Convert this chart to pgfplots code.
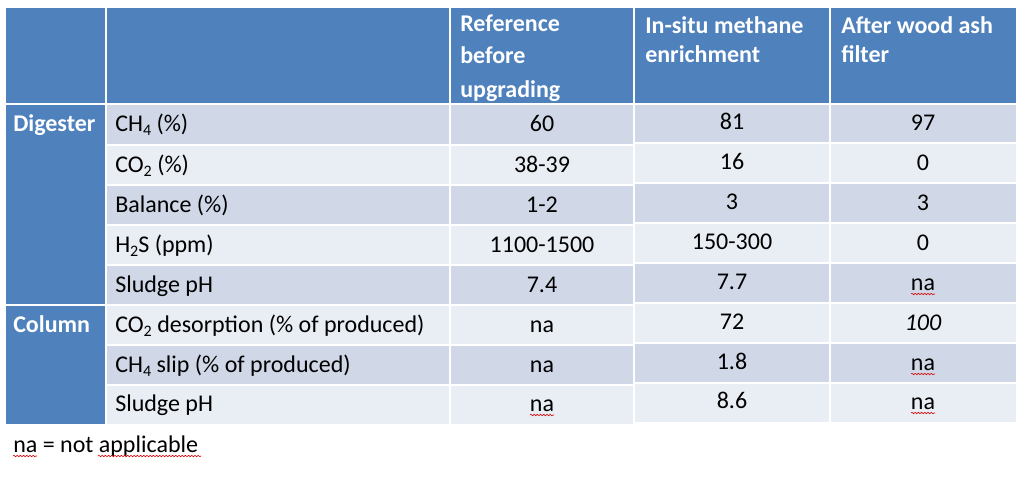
\documentclass[border=0pt]{standalone}
\usepackage{pgfplots}
\pgfplotsset{compat=1.18}
\usepackage{fontspec}
\setmainfont{Carlito}
\usetikzlibrary{decorations.pathmorphing}
\definecolor{hdr}{HTML}{4F81BD}
\definecolor{dk}{HTML}{D0D8E8}
\definecolor{lt}{HTML}{E9EDF4}
\newcommand{\cell}[5]{\addplot[fill=#5, draw=white, line width=1.5pt] coordinates {(#1,#2) (#3,#2) (#3,#4) (#1,#4)} -- cycle;}
\newcommand{\tf}{\fontsize{18}{21}\selectfont}
\newcommand{\sub}[1]{\raisebox{-3.2pt}{\fontsize{12}{12}\selectfont #1}}
\newcommand{\sq}[2]{\draw[red!85!black, line width=0.45pt, decorate, decoration={snake, amplitude=0.55pt, segment length=2.4pt}] (axis cs:#1,#2) -- (axis cs:#1+24,#2);}
\begin{document}
\begin{tikzpicture}
\begin{axis}[
  width=767.25pt, height=358.5pt, scale only axis,
  xmin=0, xmax=1023, ymin=0, ymax=478, y dir=reverse,
  axis lines=none, clip=false,
]
\addplot[fill=white, draw=none] coordinates {(0,0) (1023,0) (1023,478) (0,478)} -- cycle;
% header
\cell{5}{7}{106}{104}{hdr}
\cell{106}{7}{450}{104}{hdr}
\cell{450}{7}{634}{104}{hdr}
\cell{634}{7}{830}{104}{hdr}
\cell{830}{7}{1017}{104}{hdr}
% first column
\cell{5}{104}{106}{305}{hdr}
\cell{5}{305}{106}{425}{hdr}
% columns 2-3 rows
\cell{106}{104}{450}{145}{dk}\cell{450}{104}{634}{145}{dk}
\cell{106}{145}{450}{185}{lt}\cell{450}{145}{634}{185}{lt}
\cell{106}{185}{450}{225}{dk}\cell{450}{185}{634}{225}{dk}
\cell{106}{225}{450}{265}{lt}\cell{450}{225}{634}{265}{lt}
\cell{106}{265}{450}{305}{dk}\cell{450}{265}{634}{305}{dk}
\cell{106}{305}{450}{345}{lt}\cell{450}{305}{634}{345}{lt}
\cell{106}{345}{450}{385}{dk}\cell{450}{345}{634}{385}{dk}
\cell{106}{385}{450}{425}{lt}\cell{450}{385}{634}{425}{lt}
% columns 4-5 rows (slightly shifted)
\cell{634}{104}{830}{143}{dk}\cell{830}{104}{1017}{143}{dk}
\cell{634}{143}{830}{183}{lt}\cell{830}{143}{1017}{183}{lt}
\cell{634}{183}{830}{223}{dk}\cell{830}{183}{1017}{223}{dk}
\cell{634}{223}{830}{263}{lt}\cell{830}{223}{1017}{263}{lt}
\cell{634}{263}{830}{303}{dk}\cell{830}{263}{1017}{303}{dk}
\cell{634}{303}{830}{343}{lt}\cell{830}{303}{1017}{343}{lt}
\cell{634}{343}{830}{383}{dk}\cell{830}{343}{1017}{383}{dk}
\cell{634}{383}{830}{423}{lt}\cell{830}{383}{1017}{423}{lt}

% header text
\begin{scope}[every node/.style={inner sep=0pt, font=\tf\bfseries, text=white}]
\node[anchor=base west] at (axis cs:460,32) {Reference};
\node[anchor=base west] at (axis cs:460,64) {before};
\node[anchor=base west] at (axis cs:460,97) {upgrading};
\node[anchor=base west] at (axis cs:645,34) {In-situ methane};
\node[anchor=base west] at (axis cs:645,63) {enrichment};
\node[anchor=base west] at (axis cs:841,34) {After wood ash};
\node[anchor=base west] at (axis cs:841,63) {filter};
\node[anchor=base west] at (axis cs:13,131) {Digester};
\node[anchor=base west] at (axis cs:13,332) {Column};
\end{scope}

\begin{scope}[every node/.style={inner sep=0pt, font=\tf, text=black}]
% row labels
\node[anchor=base west] at (axis cs:115,131) {CH\sub{4} (\%)};
\node[anchor=base west] at (axis cs:115,172) {CO\sub{2} (\%)};
\node[anchor=base west] at (axis cs:115,212) {Balance (\%)};
\node[anchor=base west] at (axis cs:115,252) {H\sub{2}S (ppm)};
\node[anchor=base west] at (axis cs:115,292) {Sludge pH};
\node[anchor=base west] at (axis cs:115,332) {CO\sub{2} desorption (\% of produced)};
\node[anchor=base west] at (axis cs:115,372) {CH\sub{4} slip (\% of produced)};
\node[anchor=base west] at (axis cs:115,411) {Sludge pH};
% column 3
\node[anchor=base] at (axis cs:542,131) {60};
\node[anchor=base] at (axis cs:542,172) {38-39};
\node[anchor=base] at (axis cs:542,212) {1-2};
\node[anchor=base] at (axis cs:542,252) {1100-1500};
\node[anchor=base] at (axis cs:542,292) {7.4};
\node[anchor=base] at (axis cs:542,332) {na};
\node[anchor=base] at (axis cs:542,372) {na};
\node[anchor=base] at (axis cs:542,411) {na};
% column 4
\node[anchor=base] at (axis cs:732,129) {81};
\node[anchor=base] at (axis cs:732,169) {16};
\node[anchor=base] at (axis cs:732,209) {3};
\node[anchor=base] at (axis cs:732,249) {150-300};
\node[anchor=base] at (axis cs:732,289) {7.7};
\node[anchor=base] at (axis cs:732,329) {72};
\node[anchor=base] at (axis cs:732,369) {1.8};
\node[anchor=base] at (axis cs:732,408) {8.6};
% column 5
\node[anchor=base] at (axis cs:923,130) {97};
\node[anchor=base] at (axis cs:923,170) {0};
\node[anchor=base] at (axis cs:923,210) {3};
\node[anchor=base] at (axis cs:923,250) {0};
\node[anchor=base] at (axis cs:923,290) {na};
\node[anchor=base] at (axis cs:923,330) {\itshape 100};
\node[anchor=base] at (axis cs:923,370) {na};
\node[anchor=base] at (axis cs:923,409) {na};
% footer
\node[anchor=base west] at (axis cs:13,452) {na = not applicable};
\end{scope}
% spell-check underlines
\sq{911}{294}
\sq{911}{374}
\sq{911}{413}
\sq{530}{415}
\sq{13}{456}
\draw[red!85!black, line width=0.45pt, decorate, decoration={snake, amplitude=0.55pt, segment length=2.4pt}] (axis cs:98,456) -- (axis cs:201,456);
\end{axis}
\end{tikzpicture}
\end{document}
